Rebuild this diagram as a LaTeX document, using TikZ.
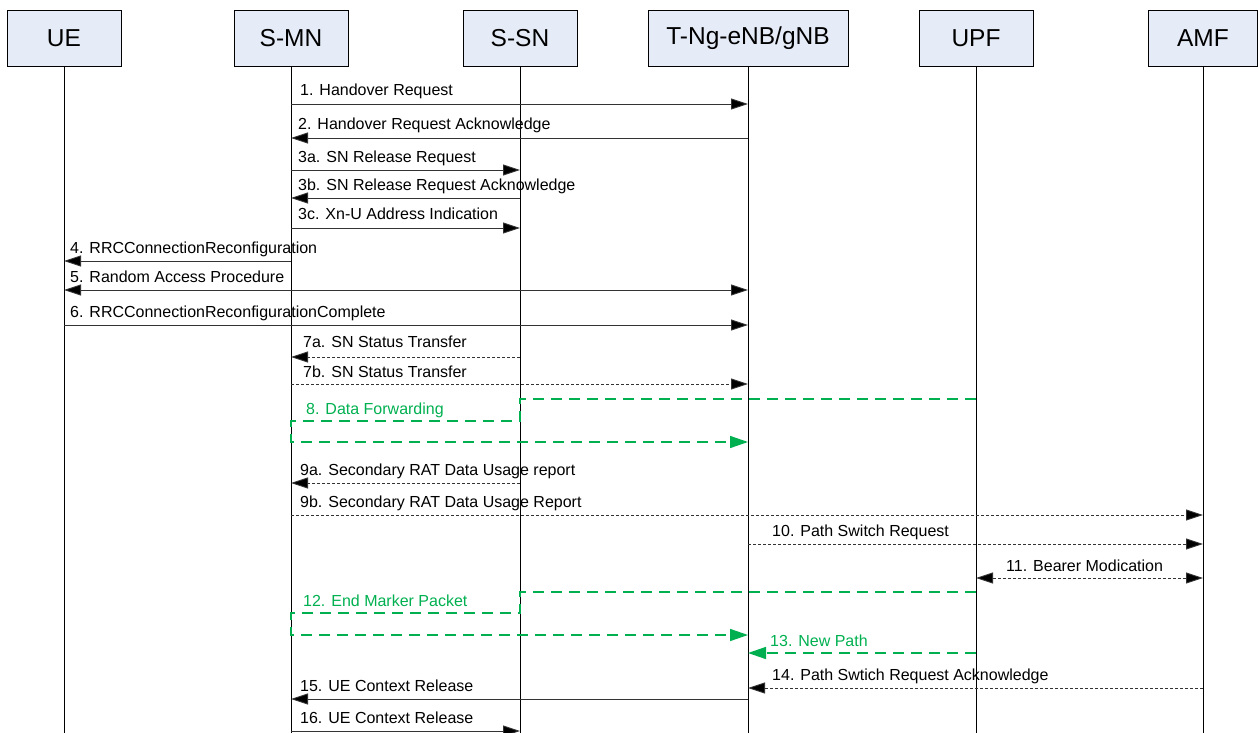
\documentclass[tikz,border=0pt]{standalone}
\usepackage{fontspec}
\setmainfont{Liberation Sans}
\usetikzlibrary{arrows.meta,positioning}
\definecolor{boxFill}{RGB}{230,236,247}
\definecolor{fwdGreen}{RGB}{0,176,80}
\newcommand{\msgFont}{\fontsize{16}{19}\selectfont}

\begin{document}
\begin{tikzpicture}[x=1pt, y=-1pt,
		entity/.style={draw, fill=boxFill, minimum width=114pt, minimum height=56pt, inner sep=0pt, font=\fontsize{24.5}{29}\selectfont},
		life/.style={line width=0.8pt},
		msg/.style={line width=0.9pt, draw=black!80, -{Triangle[length=17pt,width=11pt,fill=black]}},
		dmsg/.style={msg, dash pattern=on 3pt off 2pt},
		both/.style={{Triangle[length=17pt,width=11pt,fill=black]}-{Triangle[length=17pt,width=11pt,fill=black]}},
		fwd/.style={draw=fwdGreen, line width=1.5pt, dash pattern=on 11pt off 7pt, -{Triangle[length=18pt,width=12pt]}},
		lbl/.style={anchor=base west, inner sep=0pt, font=\msgFont},
		glbl/.style={lbl, text=fwdGreen}]
	\useasboundingbox (0,0) rectangle (1258,733);
	%entities
	\node[entity] (ue) at (64,38) {UE};
	\node[entity] (smn) at (291,38) {S-MN};
	\node[entity] (ssn) at (520,38) {S-SN};
	\node[entity, minimum width=200pt] (tng) at (748,38) {T-Ng-eNB/gNB};
	\node[entity] (upf) at (976,38) {UPF};
	\node[entity, minimum width=109pt] (amf) at (1203,38) {AMF};
	\coordinate (bottom) at (0,733);
	\foreach \e in {ue,smn,ssn,tng,upf,amf}
		\draw[life] (\e.south) -- (\e.south |- bottom);
	%message rows
	\coordinate (m1) at (0,104);
	\coordinate (m2) at (0,138);
	\coordinate (m3a) at (0,170);
	\coordinate (m3b) at (0,198);
	\coordinate (m3c) at (0,228);
	\coordinate (m4) at (0,261);
	\coordinate (m5) at (0,290);
	\coordinate (m6) at (0,325);
	\coordinate (m7a) at (0,357);
	\coordinate (m7b) at (0,384);
	\coordinate (m8a) at (0,399);
	\coordinate (m8b) at (0,421);
	\coordinate (m8c) at (0,442);
	\coordinate (m9a) at (0,483);
	\coordinate (m9b) at (0,515);
	\coordinate (m10) at (0,544);
	\coordinate (m11) at (0,578);
	\coordinate (m12a) at (0,592);
	\coordinate (m12b) at (0,613);
	\coordinate (m12c) at (0,635);
	\coordinate (m13) at (0,653);
	\coordinate (m14) at (0,688);
	\coordinate (m15) at (0,699);
	\coordinate (m16) at (0,731);
	%messages
	\draw[msg] (smn |- m1) -- (tng |- m1);
	\node[lbl] (t1) at (300,96) {1. Handover Request};
	\draw[msg] (tng |- m2) -- (smn |- m2);
	\node[lbl] (t2) at (298,130) {2. Handover Request Acknowledge};
	\draw[msg] (smn |- m3a) -- (ssn |- m3a);
	\node[lbl] (t3a) at (298,162) {3a. SN Release Request};
	\draw[msg] (ssn |- m3b) -- (smn |- m3b);
	\node[lbl] (t3b) at (298,190) {3b. SN Release Request Acknowledge};
	\draw[msg] (smn |- m3c) -- (ssn |- m3c);
	\node[lbl] (t3c) at (298,219) {3c. Xn-U Address Indication};
	\draw[msg] (smn |- m4) -- (ue |- m4);
	\node[lbl] (t4) at (70,253) {4. RRCConnectionReconfiguration};
	\draw[msg, both] (ue |- m5) -- (tng |- m5);
	\node[lbl] (t5) at (70,282) {5. Random Access Procedure};
	\draw[msg] (ue |- m6) -- (tng |- m6);
	\node[lbl] (t6) at (70,317) {6. RRCConnectionReconfigurationComplete};
	\draw[dmsg] (ssn |- m7a) -- (smn |- m7a);
	\node[lbl] (t7a) at (303,347) {7a. SN Status Transfer};
	\draw[dmsg] (smn |- m7b) -- (tng |- m7b);
	\node[lbl] (t7b) at (303,377) {7b. SN Status Transfer};
	\draw[fwd] (upf |- m8a) -- (ssn |- m8a) -- (ssn |- m8b) -- (smn |- m8b) -- (smn |- m8c) -- (tng |- m8c);
	\node[glbl] (t8) at (306,414) {8. Data Forwarding};
	\draw[dmsg] (ssn |- m9a) -- (smn |- m9a);
	\node[lbl] (t9a) at (300,475) {9a. Secondary RAT Data Usage report};
	\draw[dmsg] (smn |- m9b) -- (amf |- m9b);
	\node[lbl] (t9b) at (300,507) {9b. Secondary RAT Data Usage Report};
	\draw[dmsg] (tng |- m10) -- (amf |- m10);
	\node[lbl] (t10) at (772,536) {10. Path Switch Request};
	\draw[dmsg, both] (upf |- m11) -- (amf |- m11);
	\node[lbl] (t11) at (1006,571) {11. Bearer Modication};
	\draw[fwd] (upf |- m12a) -- (ssn |- m12a) -- (ssn |- m12b) -- (smn |- m12b) -- (smn |- m12c) -- (tng |- m12c);
	\node[glbl] (t12) at (303,606) {12. End Marker Packet};
	\draw[fwd] (upf |- m13) -- (tng |- m13);
	\node[glbl] (t13) at (770,646) {13. New Path};
	\draw[dmsg] (amf |- m14) -- (tng |- m14);
	\node[lbl] (t14) at (772,680) {14. Path Swtich Request Acknowledge};
	\draw[msg] (tng |- m15) -- (smn |- m15);
	\node[lbl] (t15) at (300,691) {15. UE Context Release};
	\draw[msg] (smn |- m16) -- (ssn |- m16);
	\node[lbl] (t16) at (300,723) {16. UE Context Release};
\end{tikzpicture}
\end{document}
